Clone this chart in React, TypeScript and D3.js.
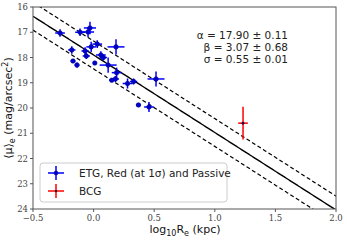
import * as d3 from 'd3';

// ETG sample (blue)
const etgX = [-0.277, -0.112, -0.046, -0.03, -0.18, -0.17, -0.137, -0.07, -0.06, -0.02, 0.03, 0.01, 0.06, 0.08, 0.12, 0.185, 0.19, 0.15, 0.18, 0.28, 0.33, 0.515, 0.37, 0.457];
const etgY = [17.03, 17.0, 16.99, 16.83, 17.7, 18.14, 18.3, 17.74, 17.94, 17.58, 17.47, 18.22, 17.9, 18.0, 18.3, 17.58, 18.6, 18.9, 18.85, 19.03, 18.95, 18.85, 19.88, 19.96];
const etgXErr = [0.04, 0.04, 0.05, 0.05, 0.03, 0.02, 0.02, 0.03, 0.03, 0.04, 0.04, 0.01, 0.04, 0.03, 0.07, 0.07, 0.04, 0.02, 0.03, 0.04, 0.03, 0.07, 0.02, 0.04];
const etgYErr = [0.15, 0.15, 0.2, 0.25, 0.15, 0.08, 0.1, 0.15, 0.12, 0.2, 0.15, 0.05, 0.15, 0.12, 0.3, 0.3, 0.2, 0.08, 0.12, 0.2, 0.12, 0.3, 0.08, 0.2];

// BCG (red)
const bcgX = [1.233];
const bcgY = [20.6];
const bcgXErr = [0.04];
const bcgYErr = [0.65];

// fit
const alpha = 17.9;
const beta = 3.07;
const sigma = 0.55;
const fitLabels = ['α = 17.90 ± 0.11', 'β = 3.07 ± 0.68', 'σ = 0.55 ± 0.01'];

const xTicks = [-0.5, 0.0, 0.5, 1.0, 1.5, 2.0];
const yTicks = [16, 17, 18, 19, 20, 21, 22, 23, 24];

const W = 347;
const H = 240;
const left = 33;
const right = 336;
const top = 7;
const bottom = 209;

export default function App() {
  const x = d3.scaleLinear().domain([-0.5, 2.0]).range([left, right]);
  const y = d3.scaleLinear().domain([16, 24]).range([top, bottom]);

  const fitLine = (off: number) =>
    d3.line<number>()
      .x(d => x(d))
      .y(d => y(alpha + beta * d + off))(d3.range(-0.5, 2.0001, 0.01));

  const blue = '#0000ff';
  const red = '#ff0000';

  const cross = (cx: number, cy: number, xe: number, ye: number, color: string, dot: string, r: number, key: string) => (
    <g key={key}>
      <line x1={x(cx - xe)} x2={x(cx + xe)} y1={y(cy)} y2={y(cy)} stroke={color} strokeWidth={1.5} />
      <line x1={x(cx)} x2={x(cx)} y1={y(cy - ye)} y2={y(cy + ye)} stroke={color} strokeWidth={1.5} />
      <circle cx={x(cx)} cy={y(cy)} r={r} fill={dot} stroke="#000080" strokeWidth={0.5} />
    </g>
  );

  return (
    <svg width={W} height={H} style={{ position: 'absolute', left: 0, top: 0 }} fontFamily="DejaVu Sans">
      <rect x={0} y={0} width={W} height={H} fill="#fff" />
      <defs>
        <clipPath id="plot">
          <rect x={left} y={top} width={right - left} height={bottom - top} />
        </clipPath>
      </defs>

      <g clipPath="url(#plot)">
        <path d={fitLine(0) || ''} fill="none" stroke="#000" strokeWidth={1.4} />
        <path d={fitLine(-sigma) || ''} fill="none" stroke="#000" strokeWidth={1.2} strokeDasharray="4,2.5" />
        <path d={fitLine(sigma) || ''} fill="none" stroke="#000" strokeWidth={1.2} strokeDasharray="4,2.5" />

        {etgX.map((d, i) => cross(d, etgY[i], etgXErr[i], etgYErr[i], blue, '#0000cc', 2.3, 'e' + i))}
        {bcgX.map((d, i) => cross(d, bcgY[i], bcgXErr[i], bcgYErr[i], red, '#400000', 1.2, 'b' + i))}
      </g>

      {/* frame */}
      <rect x={left} y={top} width={right - left} height={bottom - top} fill="none" stroke="#555" strokeWidth={1} />

      {/* x ticks */}
      {xTicks.map(t => (
        <g key={'xt' + t}>
          <line x1={x(t)} x2={x(t)} y1={bottom} y2={bottom + 3} stroke="#555" />
          <text x={x(t)} y={bottom + 12} fontSize={8.5} fontFamily="DejaVu Serif" textAnchor="middle" fill="#444">
            {t < 0 ? '−' + Math.abs(t).toFixed(1) : t.toFixed(1)}
          </text>
        </g>
      ))}
      {/* y ticks */}
      {yTicks.map(t => (
        <g key={'yt' + t}>
          <line x1={left - 3} x2={left} y1={y(t)} y2={y(t)} stroke="#555" />
          <text x={left - 5} y={y(t) + 3} fontSize={8.5} fontFamily="DejaVu Serif" textAnchor="end" fill="#444">
            {t}
          </text>
        </g>
      ))}

      {/* fit annotation */}
      {fitLabels.map((s, i) => (
        <text key={s} x={288} y={39 + i * 11.8} fontSize={10.5} textAnchor="end" fill="#222">{s}</text>
      ))}

      {/* axis labels */}
      <text x={185} y={233} fontSize={11} textAnchor="middle" fill="#111">
        log<tspan fontSize={8} dy={3}>10</tspan><tspan dy={-3}>R</tspan><tspan fontSize={8} dy={3}>e</tspan><tspan dy={-3}> (kpc)</tspan>
      </text>
      <text transform="translate(12,108) rotate(-90)" fontSize={11} textAnchor="middle" fill="#111">
        ⟨μ⟩<tspan fontSize={8} dy={3}>e</tspan><tspan dy={-3}> (mag/arcsec</tspan><tspan fontSize={8} dy={-4}>2</tspan><tspan dy={4}>)</tspan>
      </text>

      {/* legend */}
      <rect x={40} y={163} width={187} height={39} rx={3} fill="#fff" fillOpacity={0.8} stroke="#ccc" strokeWidth={1} />
      <g>
        <line x1={48} x2={64} y1={173} y2={173} stroke={blue} strokeWidth={1.5} />
        <line x1={56} x2={56} y1={166} y2={180} stroke={blue} strokeWidth={1.5} />
        <circle cx={56} cy={173} r={2} fill="#0000cc" stroke="#000080" strokeWidth={0.5} />
        <text x={79} y={177} fontSize={10.5} fill="#222">ETG, Red (at 1σ) and Passive</text>
      </g>
      <g>
        <line x1={48} x2={64} y1={191} y2={191} stroke={red} strokeWidth={1.5} />
        <line x1={56} x2={56} y1={184} y2={198} stroke={red} strokeWidth={1.5} />
        <circle cx={56} cy={191} r={1.2} fill="#400000" />
        <text x={79} y={195} fontSize={10.5} fill="#222">BCG</text>
      </g>
    </svg>
  );
}
